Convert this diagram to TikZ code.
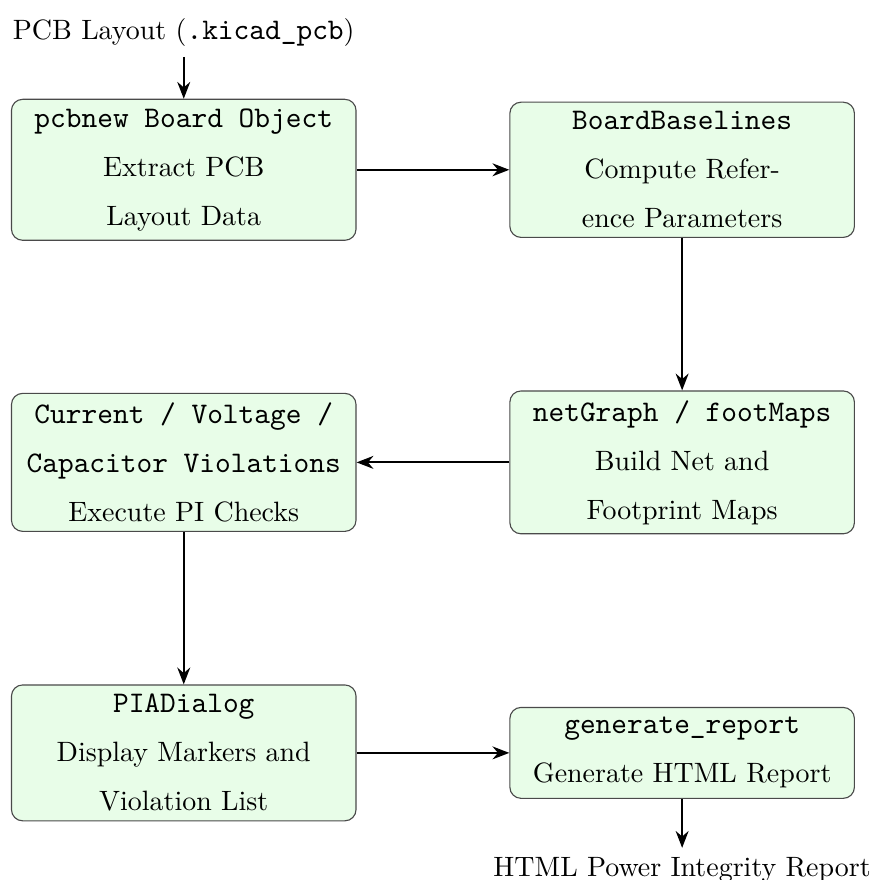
\documentclass[tikz,border=0pt]{standalone}
\usepackage{tikz}
\usetikzlibrary{positioning,arrows.meta,calc}
\definecolor{stagefill}{HTML}{E8FDE8}
\definecolor{stageline}{HTML}{4A4A4A}
% slightly wider mono text for code names
\newcommand{\code}[1]{{\fontsize{10.7}{12}\selectfont\ttfamily #1}}

\begin{document}
\begin{tikzpicture}[>={Stealth[length=6pt,width=4.6pt]}, node distance=54.5pt and 54.6pt,
    stage/.style={draw=stageline, fill=stagefill, rounded corners=4pt, align=center,
      minimum width=123.2pt, font=\linespread{1.46}\selectfont},
    flow/.style={->, thick}]
    % processing stages
    \node[stage] (board) {\code{pcbnew Board Object}\\Extract PCB\\Layout Data};
    \node[stage, right=of board] (base) {\code{BoardBaselines}\\Compute Refer-\\ence Parameters};
    \node[stage, below=of base] (maps) {\code{netGraph / footMaps}\\Build Net and\\Footprint Maps};
    \node[stage, left=of maps] (checks) {\code{Current / Voltage /}\\\code{Capacitor Violations}\\Execute PI Checks};
    \node[stage, below=of checks] (dialog) {\code{PIADialog}\\Display Markers and\\Violation List};
    \node[stage, right=of dialog, minimum height=32.5pt] (report) {\code{generate\_report}\\Generate HTML Report};
    % input and output
    \node[above=15pt of board] (pcbfile) {PCB Layout (\code{.kicad\_pcb})};
    \node[below=17.5pt of report] (html) {HTML Power Integrity Report};
    \draw[flow] (pcbfile) -- (board);
    \draw[flow] (board) -- (base);
    \draw[flow] (base) -- (maps);
    \draw[flow] (maps) -- (checks);
    \draw[flow] (checks) -- (dialog);
    \draw[flow] (dialog) -- (report);
    \draw[flow] (report) -- (html);
    \pgfresetboundingbox
    \useasboundingbox ($(board.north west)+(-3.9pt,35.3pt)$) rectangle ($(base.east |- report.south)+(8.9pt,-29pt)$);
\end{tikzpicture}
\end{document}
